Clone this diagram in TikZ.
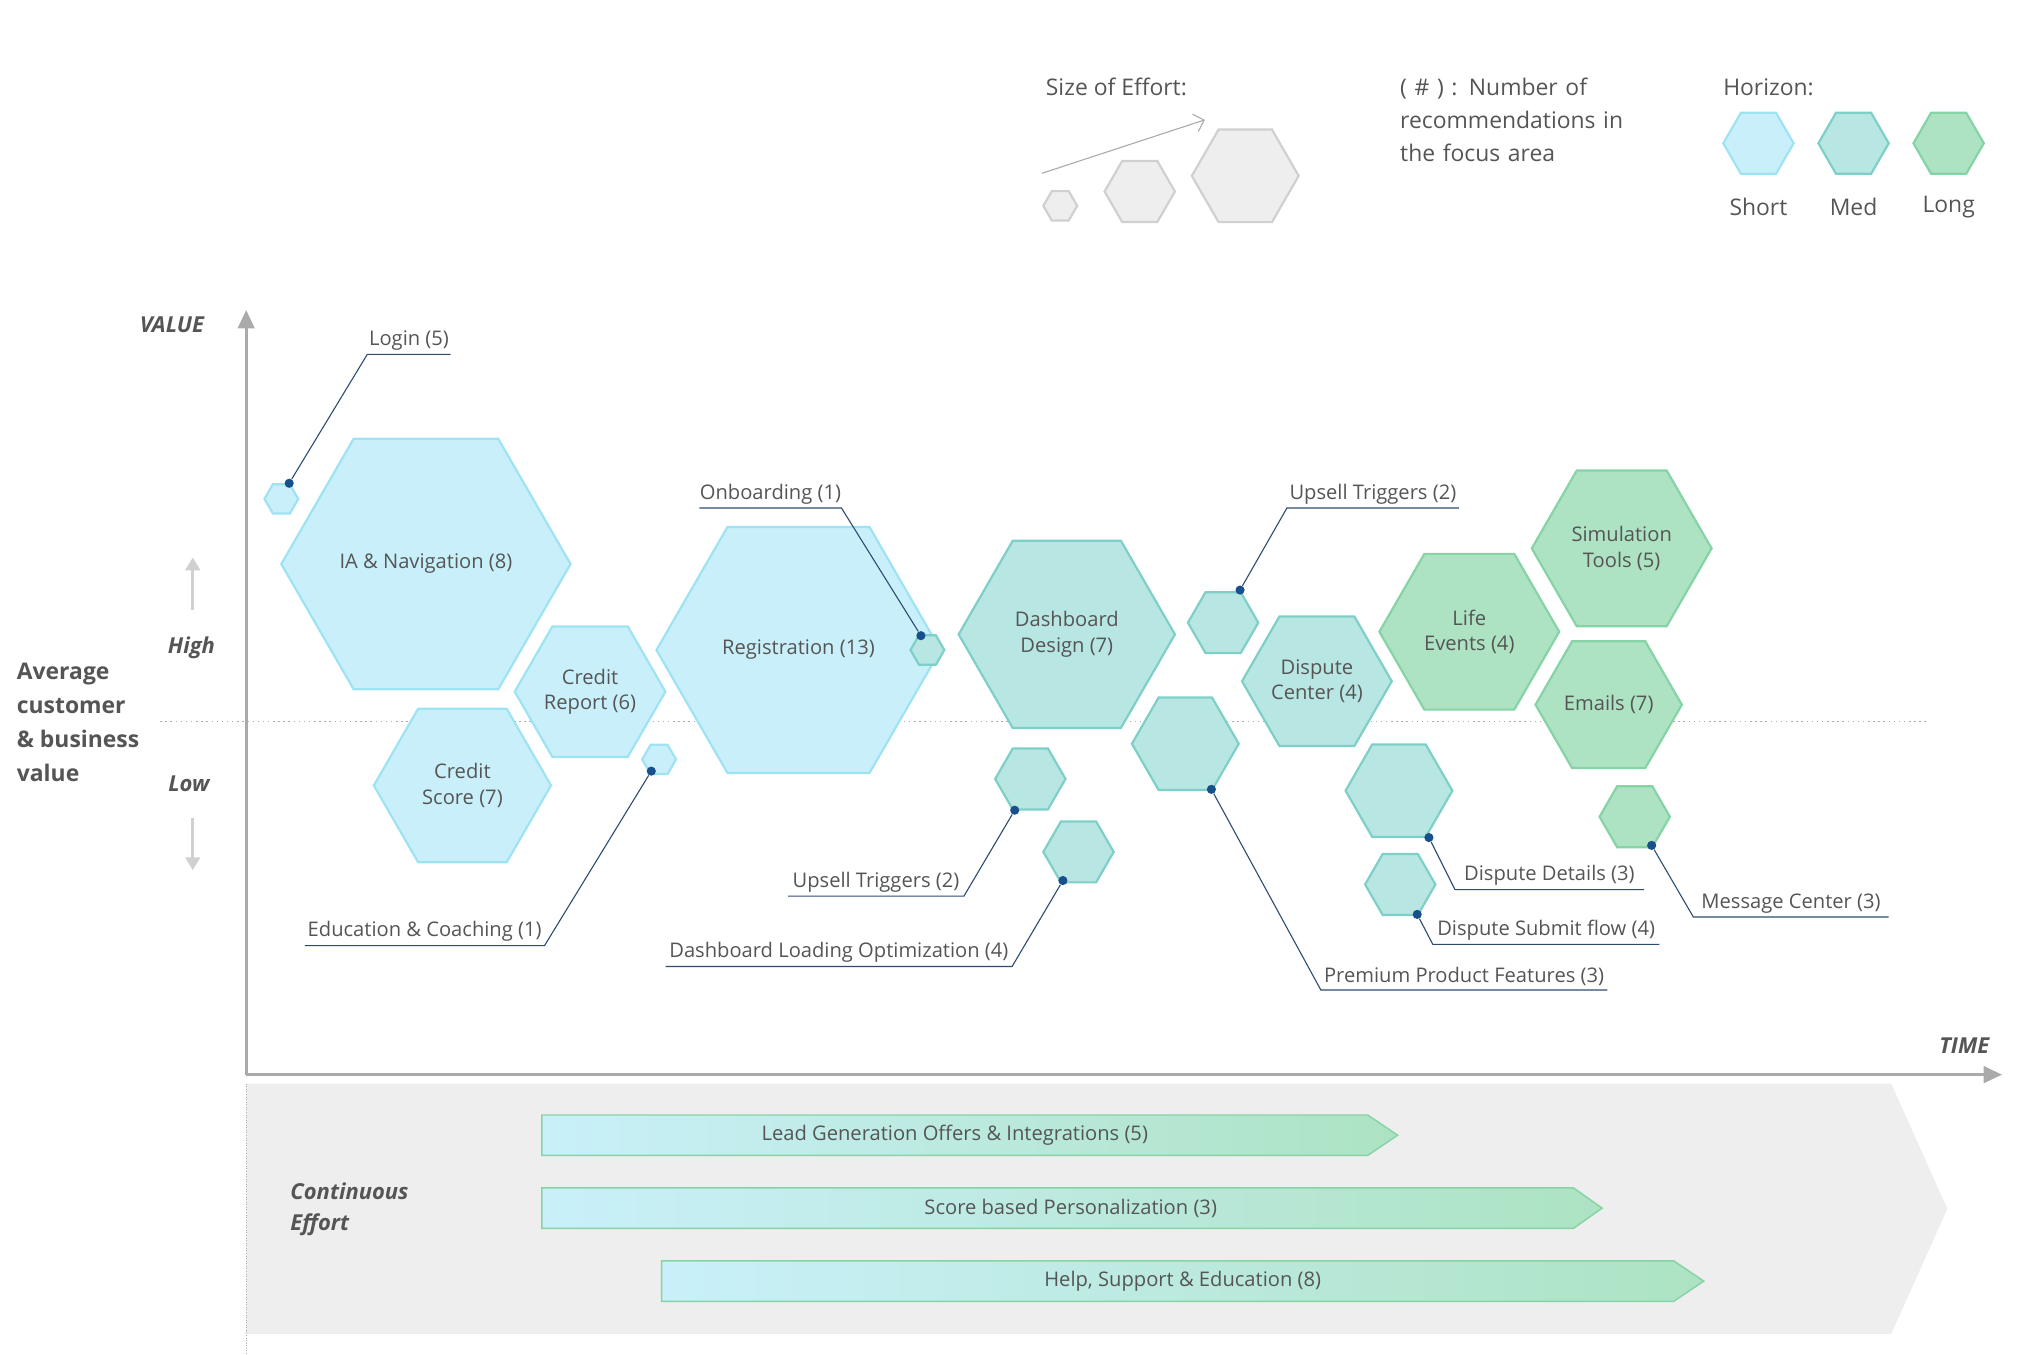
\documentclass[tikz,border=0pt]{standalone}
\usepackage{fontspec}
\setmainfont{Open Sans}
\usetikzlibrary{shapes.geometric,arrows.meta,calc}
\definecolor{sF}{HTML}{C9F0FA}\definecolor{sD}{HTML}{9EE3F3}
\definecolor{mF}{HTML}{B8E6E2}\definecolor{mD}{HTML}{7ECFC7}
\definecolor{lF}{HTML}{ADE3C3}\definecolor{lD}{HTML}{86D3A5}
\definecolor{gF}{HTML}{EEEEEE}\definecolor{gD}{HTML}{D0D0D0}
\definecolor{tx}{HTML}{555555}\definecolor{ln}{HTML}{2C4C6E}\definecolor{dt}{HTML}{17508C}
\definecolor{axc}{HTML}{AAAAAA}
\tikzset{
 hex/.style={regular polygon,regular polygon sides=6,inner sep=0pt,minimum size=#1*0.05cm,line width=1.2pt,text=tx,align=center,font=\fontsize{11}{14}\selectfont},
 S/.style={fill=sF,draw=sD},M/.style={fill=mF,draw=mD},L/.style={fill=lF,draw=lD},G/.style={fill=gF,draw=gD},
 lead/.style={draw=ln,line width=0.6pt},
 dot/.style={circle,fill=dt,inner sep=0pt,minimum size=5pt},
 lbl/.style={anchor=south,text=tx,font=\fontsize{11}{13}\selectfont,inner sep=2pt},
 lg/.style={text=tx,font=\fontsize{12.5}{16}\selectfont,align=left},
 axt/.style={text=tx,font=\fontsize{12}{14}\selectfont\bfseries\itshape},
 axl/.style={draw=axc},
 bar/.style={left color=sF,right color=lF,draw=lD,line width=0.8pt},
}
\newcommand\leader[7]{%
 \node[dot] (#1d) at (#2,#3) {};
 \coordinate (#1b) at (#4,#5); \coordinate (#1e) at (#6,#5);
 \draw[lead] (#1d) -- (#1b) -- (#1e);
 \node[lbl] (#1t) at ($(#1b)!0.5!(#1e)$) {#7};}
\begin{document}
\begin{tikzpicture}[x=0.025cm,y=-0.025cm]
\useasboundingbox (0,0) rectangle (1560,1040);
% legend
\node[lg,anchor=west] (se) at (798,67) {Size of Effort:};
\node[hex=13,G] (g1) at (814,158) {};
\node[hex=27,G] (g2) at (875,147) {};
\node[hex=41,G] (g3) at (956,135) {};
\coordinate (ga) at (800,133); \coordinate (gb) at (925,92);
\draw[axl,line width=0.6pt,-{Straight Barb[length=5pt]}] (ga) -- (gb);
\node[lg,anchor=north west,text width=5cm,font=\fontsize{12.5}{18}\selectfont] (num) at (1070,55) {( \# ) : Number of\\recommendations in\\the focus area};
\node[lg,anchor=west] (hz) at (1318,67) {Horizon:};
\node[hex=27,S] (h1) at (1350,110) {};
\node[hex=27,M] (h2) at (1423,110) {};
\node[hex=27,L] (h3) at (1496,110) {};
\node[lg] (t1) at (1350,159) {Short};
\node[lg] (t2) at (1423,159) {Med};
\node[lg] (t3) at (1496,159) {Long};
% continuous band
\path[fill=gF] (189,832) -- (1452,832) -- (1495,928) -- (1452,1024) -- (189,1024) -- cycle;
\coordinate (v1) at (189,832); \coordinate (v2) at (189,1040);
\draw[axl,densely dotted] (v1) -- (v2);
\node[axt,anchor=north west,align=left,font=\fontsize{12}{17}\selectfont\bfseries\itshape] (ce) at (218,903) {Continuous\\Effort};
\shade[bar] (416,856) -- (1050,856) -- (1073,871.5) -- (1050,887) -- (416,887) -- cycle;
\node[lbl,anchor=center] (b1) at (733,871.5) {Lead Generation Offers \& Integrations (5)};
\shade[bar] (416,912) -- (1208,912) -- (1230,927.5) -- (1208,943) -- (416,943) -- cycle;
\node[lbl,anchor=center] (b2) at (822,927.5) {Score based Personalization (3)};
\shade[bar] (508,968) -- (1285,968) -- (1308,983.5) -- (1285,999) -- (508,999) -- cycle;
\node[lbl,anchor=center] (b3) at (908,983.5) {Help, Support \& Education (8)};
% axes
\coordinate (o) at (189,825); \coordinate (yt) at (189,238); \coordinate (xt) at (1537,825);
\draw[axl,line width=1.5pt,-{Triangle[length=10pt,width=9pt]}] (o) -- (yt);
\draw[axl,line width=1.5pt,-{Triangle[length=10pt,width=9pt]}] (o) -- (xt);
\node[axt] (val) at (132,249) {VALUE};
\node[axt] (tim) at (1508,803) {TIME};
\coordinate (d1) at (123,554); \coordinate (d2) at (1480,554);
\draw[axl,dotted,line width=0.8pt] (d1) -- (d2);
\node[axt] (hi) at (147,497) {High};
\node[axt] (lo) at (145,602) {Low};
\coordinate (ua) at (148,468); \coordinate (ub) at (148,428);
\coordinate (da) at (148,628); \coordinate (db) at (148,668);
\draw[draw=gD,line width=1.5pt,-{Triangle[length=7pt,width=8pt]}] (ua) -- (ub);
\draw[draw=gD,line width=1.5pt,-{Triangle[length=7pt,width=8pt]}] (da) -- (db);
\node[anchor=north west,text=tx,font=\fontsize{12.5}{18.5}\selectfont\bfseries,align=left] (avg) at (8,504) {Average\\customer\\\& business\\value};
% hexagons
\node[hex=13,S] (login) at (216,383) {};
\node[hex=111,S] (ia) at (327,433) {IA \& Navigation (8)};
\node[hex=68,S] (cs) at (355,603) {Credit\\Score (7)};
\node[hex=55,S] (cr) at (453,531) {Credit\\Report (6)};
\node[hex=13,S] (edu) at (506,583) {};
\node[hex=109,S] (reg) at (613,499) {Registration (13)};
\node[hex=13,M] (onb) at (712,499) {};
\node[hex=83,M] (dd) at (819,487) {Dashboard\\Design (7)};
\node[hex=27,M] (up1) at (791,598) {};
\node[hex=27,M] (dlo) at (828,654) {};
\node[hex=27,M] (up2) at (939,478) {};
\node[hex=41,M] (pp) at (910,571) {};
\node[hex=55,M] (dc) at (1011,523) {Dispute\\Center (4)};
\node[hex=41,M] (ddt) at (1074,607) {};
\node[hex=27,M] (dsf) at (1075,679) {};
\node[hex=69,L] (le) at (1128,485) {Life\\Events (4)};
\node[hex=69,L] (st) at (1245,421) {Simulation\\Tools (5)};
\node[hex=54,L] (em) at (1235,541) {Emails (7)};
\node[hex=27,L] (mc) at (1255,627) {};
% leaders
\leader{a}{222}{371}{282}{272}{346}{Login (5)}
\leader{b}{500}{592}{418}{726}{234}{Education \& Coaching (1)}
\leader{c}{707}{488}{646}{390}{537}{Onboarding (1)}
\leader{e}{779}{622}{740}{688}{605}{Upsell Triggers (2)}
\leader{f}{816}{676}{777}{742}{511}{Dashboard Loading Optimization (4)}
\leader{g}{952}{453}{988}{390}{1120}{Upsell Triggers (2)}
\leader{h}{930}{606}{1014}{760}{1234}{Premium Product Features (3)}
\leader{i}{1097}{643}{1117}{683}{1262}{Dispute Details (3)}
\leader{j}{1088}{702}{1100}{725}{1274}{Dispute Submit flow (4)}
\leader{k}{1268}{649}{1300}{704}{1450}{Message Center (3)}
\end{tikzpicture}
\end{document}
